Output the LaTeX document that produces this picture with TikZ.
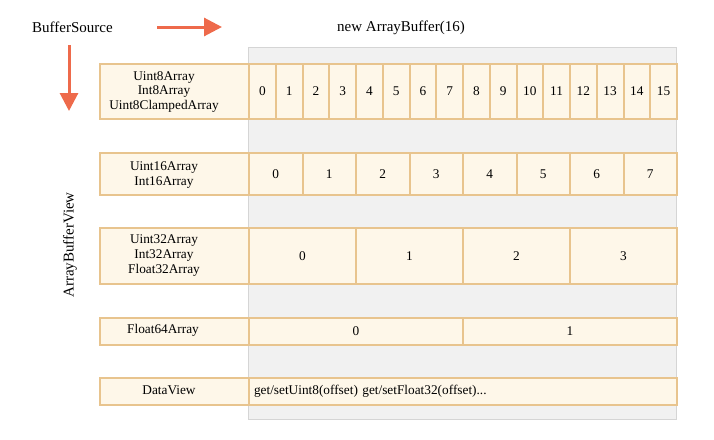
\documentclass[tikz,border=0pt]{standalone}
\usepackage{fontspec}
\setmainfont{Liberation Serif}
\usetikzlibrary{arrows.meta}
\definecolor{cellfill}{HTML}{FEF7E9}
\definecolor{cellline}{HTML}{E8C48E}
\definecolor{bgfill}{HTML}{F1F1F1}
\definecolor{bgline}{HTML}{D5D5D5}
\definecolor{arrowc}{HTML}{EE6A4B}
\tikzset{
 cellbox/.style={draw=cellline, fill=cellfill, line width=2pt, inner sep=0pt, anchor=north west, font=\fontsize{13.3}{15}\selectfont, align=center},
 labeltext/.style={inner sep=0pt, font=\fontsize{13.3}{14.8}\selectfont, align=center},
 headtext/.style={font=\fontsize{15}{18}\selectfont, inner sep=0pt},
 bigarrow/.style={draw=arrowc, line width=3pt, -{Triangle[length=18pt,width=18pt]}},
}
\begin{document}
\begin{tikzpicture}[x=1pt,y=-1pt]
\useasboundingbox (0,0) rectangle (714,439);
\node[draw=bgline, fill=bgfill, line width=1pt, minimum width=428pt, minimum height=372pt, anchor=north west, inner sep=0pt] (bg) at (248,47) {};
% row 1
\node[cellbox, minimum width=149pt, minimum height=55.5pt] (l1) at (99,62.5) {};
\node[labeltext] (t1) at (164,92) {Uint8Array\\Int8Array\\Uint8ClampedArray};
\foreach \i in {0,...,15} \node[cellbox, minimum width=26.75pt, minimum height=55.5pt] (a\i) at ({248+26.75*\i},62.5) {\i};
% row 2
\node[cellbox, minimum width=149pt, minimum height=42pt] (l2) at (99,152) {};
\node[labeltext] (t2) at (164,175) {Uint16Array\\Int16Array};
\foreach \i in {0,...,7} \node[cellbox, minimum width=53.5pt, minimum height=42pt] (b\i) at ({248+53.5*\i},152) {\i};
% row 3
\node[cellbox, minimum width=149pt, minimum height=56pt] (l3) at (99,227) {};
\node[labeltext, font=\fontsize{13.3}{15.2}\selectfont] (t3) at (164,255.5) {Uint32Array\\Int32Array\\Float32Array};
\foreach \i in {0,...,3} \node[cellbox, minimum width=107pt, minimum height=56pt] (c\i) at ({248+107*\i},227) {\i};
% row 4
\node[cellbox, minimum width=149pt, minimum height=27pt] (l4) at (99,317) {};
\node[labeltext] (t4) at (163,330.5) {Float64Array};
\foreach \i in {0,1} \node[cellbox, minimum width=214pt, minimum height=27pt] (d\i) at ({248+214*\i},317) {\i};
% row 5
\node[cellbox, minimum width=149pt, minimum height=27pt] (l5) at (99,377) {};
\node[labeltext] (t5) at (169,390) {DataView};
\node[cellbox, minimum height=27pt, text width=418pt, inner xsep=5pt, align=left] (e0) at (248,377) {get/setUint8(offset) get/setFloat32(offset)...};
% headings
\node[headtext, anchor=base] (bs) at (72.5,32) {BufferSource};
\node[headtext, anchor=base] (nab) at (401,31) {new ArrayBuffer(16)};
\node[headtext, rotate=90] (abv) at (70,245) {ArrayBufferView};
% arrows
\coordinate (ra1) at (157,27);
\coordinate (ra2) at (222,27);
\coordinate (da1) at (69,45);
\coordinate (da2) at (69,111);
\draw[bigarrow] (ra1) -- (ra2);
\draw[bigarrow] (da1) -- (da2);
\end{tikzpicture}
\end{document}
